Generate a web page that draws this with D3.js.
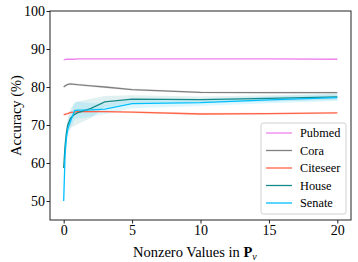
<!DOCTYPE html>
<html>
<head>
<meta charset="utf-8">
<script src="https://cdn.jsdelivr.net/npm/d3@7"></script>
<style>
  body { margin: 0; background: #fff; }
  svg { display: block; }
  svg text { font-family: "Liberation Serif", "DejaVu Serif", serif; fill: #000; }
</style>
</head>
<body>
<svg id="chart" width="358" height="262"></svg>
<script>
// values
const xValues = [0, 0.1, 0.2, 0.3, 0.5, 0.8, 1, 2, 3, 5, 10, 15, 20];
const seriesNames = ["Pubmed", "Cora", "Citeseer", "House", "Senate"];
const pubmed = [87.2, 87.2, 87.3, 87.3, 87.3, 87.3, 87.4, 87.4, 87.4, 87.4, 87.4, 87.4, 87.3];
const cora = [80.0, 80.3, 80.5, 80.7, 80.8, 80.7, 80.6, 80.3, 80.0, 79.3, 78.6, 78.5, 78.5];
const citeseer = [72.7, 72.8, 72.9, 73.0, 73.3, 73.4, 73.5, 73.5, 73.5, 73.4, 72.9, 73.0, 73.2];
const house = [58.7, 64.5, 68.0, 70.0, 71.8, 72.8, 73.2, 74.4, 76.1, 76.8, 76.7, 77.0, 77.4];
const senate = [50.0, 62.0, 66.6, 69.0, 71.0, 73.8, 73.9, 74.0, 74.2, 75.6, 75.9, 76.6, 77.2];
const pubmedStd = [0.1, 0.1, 0.1, 0.1, 0.1, 0.1, 0.1, 0.1, 0.1, 0.1, 0.1, 0.1, 0.1];
const coraStd = [0.3, 0.3, 0.3, 0.3, 0.3, 0.3, 0.3, 0.3, 0.3, 0.3, 0.3, 0.3, 0.3];
const citeseerStd = [0.3, 0.3, 0.3, 0.3, 0.3, 0.3, 0.3, 0.3, 0.3, 0.3, 0.3, 0.3, 0.3];
const houseStd = [0.5, 1.0, 1.5, 2.0, 2.5, 3.0, 3.0, 2.5, 1.5, 1.0, 0.8, 0.8, 0.8];
const senateStd = [0.5, 1.0, 1.5, 2.0, 2.0, 2.2, 2.2, 1.8, 1.4, 1.2, 0.9, 0.9, 0.9];
const xTicks = [0, 5, 10, 15, 20];
const yTicks = [50, 60, 70, 80, 90, 100];

const colors = ["#ee82ee", "#808080", "#ff6347", "#168a8a", "#00bfff"];
const means = [pubmed, cora, citeseer, house, senate];
const stds = [pubmedStd, coraStd, citeseerStd, houseStd, senateStd];

const series = seriesNames.map((name, i) => ({
  name,
  color: colors[i],
  points: xValues.map((x, j) => ({ x, y: means[i][j], s: stds[i][j] })),
}));

const margin = { top: 11, right: 7, bottom: 42, left: 50 };
const width = 358, height = 262;
const svg = d3.select("#chart");

const x = d3.scaleLinear().domain([-1, 21]).range([margin.left, width - margin.right]);
const y = d3.scaleLinear().domain([45, 100]).range([height - margin.bottom, margin.top]);

const area = d3.area()
  .x((d) => x(d.x))
  .y0((d) => y(d.y - d.s))
  .y1((d) => y(d.y + d.s));

const line = d3.line()
  .x((d) => x(d.x))
  .y((d) => y(d.y));

svg.append("g")
  .selectAll("path")
  .data(series)
  .join("path")
  .attr("d", (d) => area(d.points))
  .attr("fill", (d) => d.color)
  .attr("fill-opacity", 0.13);

svg.append("g")
  .selectAll("path")
  .data(series)
  .join("path")
  .attr("d", (d) => line(d.points))
  .attr("fill", "none")
  .attr("stroke", (d) => d.color)
  .attr("stroke-width", 1.3);

// frame
svg.append("rect")
  .attr("x", margin.left)
  .attr("y", margin.top)
  .attr("width", width - margin.left - margin.right)
  .attr("height", height - margin.top - margin.bottom)
  .attr("fill", "none")
  .attr("stroke", "#222")
  .attr("stroke-width", 1);

const xAxis = svg.append("g")
  .attr("transform", `translate(0,${height - margin.bottom})`)
  .call(d3.axisBottom(x).tickValues(xTicks).tickSize(3.5).tickPadding(2));
const yAxis = svg.append("g")
  .attr("transform", `translate(${margin.left},0)`)
  .call(d3.axisLeft(y).tickValues(yTicks).tickSize(3.5).tickPadding(1.5));

[xAxis, yAxis].forEach((g) => {
  g.attr("font-family", null).attr("font-size", null);
  g.select(".domain").remove();
  g.selectAll("line").attr("stroke", "#222");
  g.selectAll("text")
    .attr("fill", "#000")
    .style("font-size", "14px");
});

svg.append("text")
  .attr("transform", `translate(21,${(margin.top + height - margin.bottom) / 2}) rotate(-90)`)
  .attr("text-anchor", "middle")
  .style("font-size", "14.5px")
  .text("Accuracy (%)");

const xl = svg.append("text")
  .attr("x", 133)
  .attr("y", 257)
  .style("font-size", "14.5px");
xl.append("tspan").text("Nonzero Values in ");
xl.append("tspan").attr("font-weight", "bold").text("P");
xl.append("tspan").attr("font-size", "10px").attr("font-style", "italic").attr("dy", 2.5).text("ν");

// legend
const legend = svg.append("g").attr("transform", "translate(261,123)");
legend.append("rect")
  .attr("width", 85)
  .attr("height", 91)
  .attr("rx", 2.5)
  .attr("fill", "#fff")
  .attr("fill-opacity", 0.8)
  .attr("stroke", "#d0d0d0");

const item = legend.selectAll("g")
  .data(series)
  .join("g")
  .attr("transform", (d, i) => `translate(0,${10 + i * 17.5})`);
item.append("line")
  .attr("x1", 5).attr("x2", 31)
  .attr("stroke", (d) => d.color)
  .attr("stroke-width", 1.3);
item.append("text")
  .attr("x", 39)
  .attr("dy", "0.35em")
  .style("font-size", "12.3px")
  .text((d) => d.name);
</script>
</body>
</html>
